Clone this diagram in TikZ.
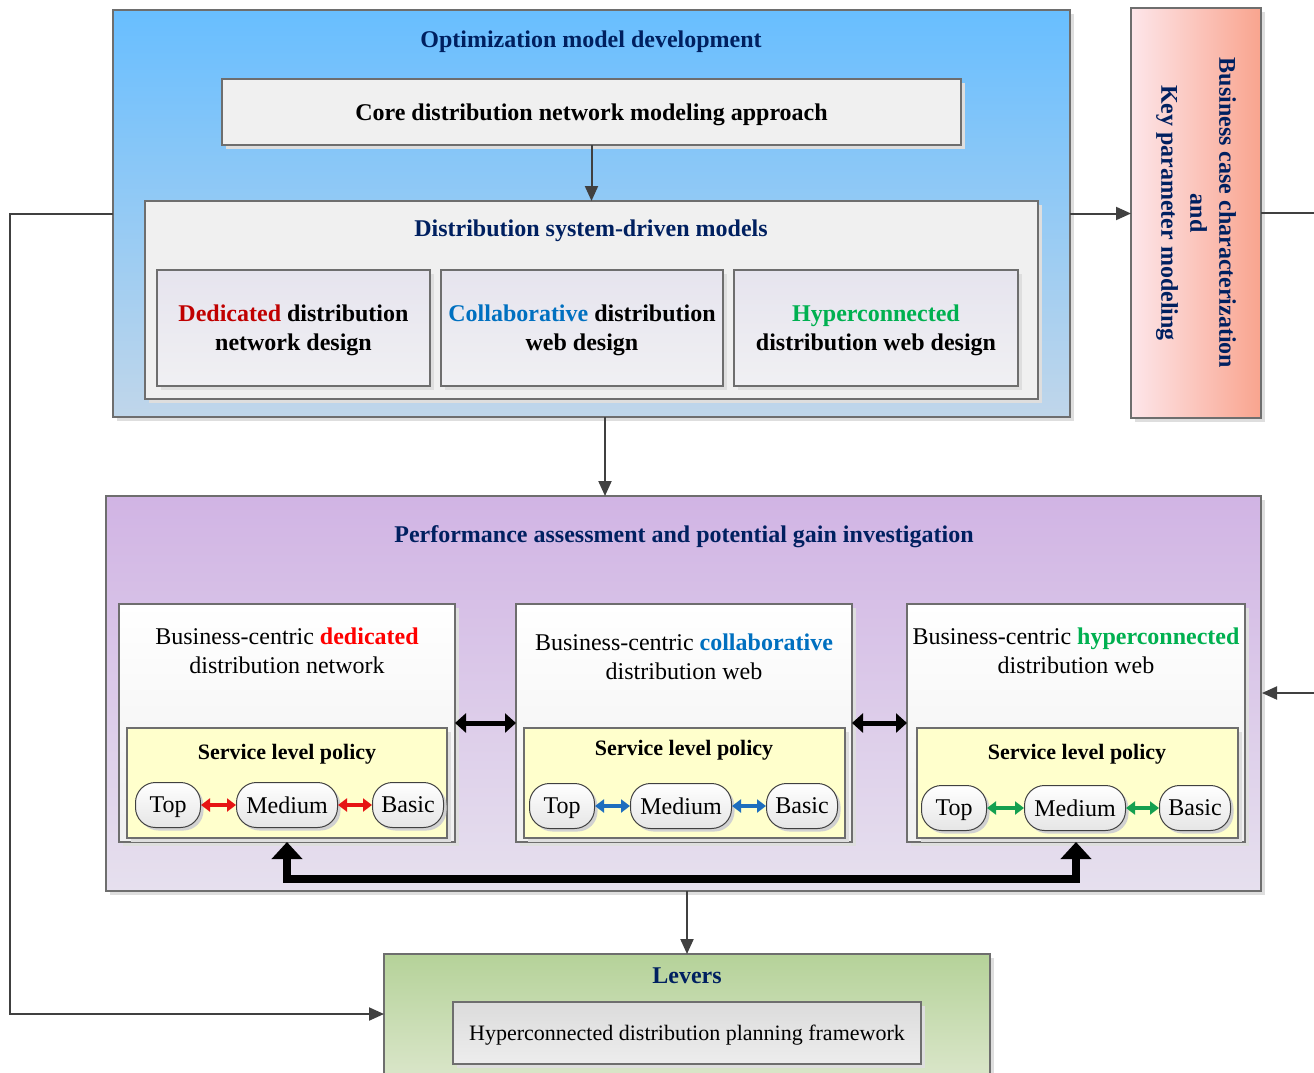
\documentclass[tikz,border=0pt]{standalone}
\usepackage{fontspec}
\setmainfont{Liberation Serif}
\usetikzlibrary{arrows.meta,shadows}

\definecolor{navy}{RGB}{0,32,96}
\definecolor{boxgray}{RGB}{110,110,110}
\definecolor{linegray}{RGB}{64,64,64}
\definecolor{shadowgray}{RGB}{222,222,222}
\definecolor{blueTop}{RGB}{104,190,255}
\definecolor{blueBot}{RGB}{192,214,234}
\definecolor{purpTop}{RGB}{209,180,228}
\definecolor{purpBot}{RGB}{230,224,238}
\definecolor{greenTop}{RGB}{181,210,153}
\definecolor{greenBot}{RGB}{226,234,212}
\definecolor{pinkL}{RGB}{253,230,234}
\definecolor{pinkR}{RGB}{249,164,142}
\definecolor{lightgray}{RGB}{240,240,240}
\definecolor{lavTop}{RGB}{230,228,238}
\definecolor{lavBot}{RGB}{240,240,243}
\definecolor{paleyellow}{RGB}{255,255,204}
\definecolor{darkred}{RGB}{192,0,0}
\definecolor{brightred}{RGB}{255,0,0}
\definecolor{collabblue}{RGB}{0,112,192}
\definecolor{hypgreen}{RGB}{0,176,80}
\definecolor{arrred}{RGB}{230,20,20}
\definecolor{arrblue}{RGB}{30,110,190}
\definecolor{arrgreen}{RGB}{20,160,80}

\tikzset{
  panel/.style={draw=boxgray, line width=1.2pt, inner sep=0pt, outer sep=0pt,
    anchor=north west,
    drop shadow={shadow xshift=4pt, shadow yshift=-4pt, fill=shadowgray, opacity=1}},
  ttl/.style={font=\fontsize{24}{29}\selectfont\bfseries, text=navy, inner sep=0pt, text depth=0pt},
  boldtxt/.style={font=\fontsize{24}{29}\selectfont\bfseries, align=center, text depth=0pt},
  plaintxt/.style={font=\fontsize{24}{29}\selectfont, align=center, inner sep=0pt},
  pill/.style={draw=linegray, line width=1pt, rounded corners=20pt,
    minimum height=45pt, inner sep=0pt, top color=white, bottom color=black!10,
    font=\fontsize{24}{29}\selectfont, text depth=0pt,
    drop shadow={shadow xshift=3pt, shadow yshift=-3pt, fill=black!18, opacity=1}},
  conn/.style={draw=linegray, line width=2pt,
    -{Triangle[length=15pt,width=13pt]}},
  minidbl/.style={line width=4pt, {Triangle[length=9pt,width=13pt]}-{Triangle[length=9pt,width=13pt]}},
  bigdbl/.style={line width=5pt, black, {Triangle[length=11pt,width=19pt]}-{Triangle[length=11pt,width=19pt]}},
  feedback/.style={line width=8pt, black, {Triangle[length=17pt,width=30pt]}-{Triangle[length=17pt,width=30pt]}},
}

\begin{document}
\begin{tikzpicture}[x=1pt,y=-1pt]
\useasboundingbox (0,0) rectangle (1314,1072);
\fill[white] (0,0) rectangle (1314,1072);
\clip (0,0) rectangle (1314,1072);

% ---------- optimization model development ----------
\node[panel, top color=blueTop, bottom color=blueBot,
  minimum width=957pt, minimum height=407pt] (opt) at (113,10) {};
\node[ttl] (optT) at (591,39) {Optimization model development};
\node[panel, fill=lightgray, minimum width=739pt, minimum height=66pt,
  boldtxt] (core) at (222,79) {Core distribution network modeling approach};
\node[panel, fill=lightgray, minimum width=893pt, minimum height=198pt] (dsm) at (145,201) {};
\node[ttl] (dsmT) at (591,228) {Distribution system-driven models};
\node[panel, top color=lavTop, bottom color=lavBot, minimum width=273pt,
  minimum height=116pt, boldtxt] (d1) at (157,270)
  {{\color{darkred}Dedicated} distribution\\network design};
\node[panel, top color=lavTop, bottom color=lavBot, minimum width=282pt,
  minimum height=116pt, boldtxt] (d2) at (441,270)
  {{\color{collabblue}Collaborative} distribution\\web design};
\node[panel, top color=lavTop, bottom color=lavBot, minimum width=284pt,
  minimum height=116pt, boldtxt] (d3) at (734,270)
  {{\color{hypgreen}Hyperconnected}\\distribution web design};

% ---------- business case ----------
\node[panel, left color=pinkL, right color=pinkR,
  minimum width=130pt, minimum height=410pt] (biz) at (1131,8) {};
\node[ttl, rotate=-90, align=center, text depth=] (bizT) at (biz.center)
  {Business case characterization\\and\\Key parameter modeling};

% ---------- performance assessment ----------
\node[panel, top color=purpTop, bottom color=purpBot,
  minimum width=1155pt, minimum height=395pt] (perf) at (106,496) {};
\node[ttl] (perfT) at (684,534) {Performance assessment and potential gain investigation};

\node[panel, top color=white, bottom color=black!6, minimum width=336pt, minimum height=238pt] (b1) at (119,604) {};
\node[panel, top color=white, bottom color=black!6, minimum width=336pt, minimum height=238pt] (b2) at (516,604) {};
\node[panel, top color=white, bottom color=black!6, minimum width=338pt, minimum height=238pt] (b3) at (907,604) {};

\node[plaintxt] (b1T) at (287,651) {Business-centric {\bfseries\color{brightred}dedicated}\\distribution network};
\node[plaintxt] (b2T) at (684,657) {Business-centric {\bfseries\color{collabblue}collaborative}\\distribution web};
\node[plaintxt] (b3T) at (1076,651) {Business-centric {\bfseries\color{hypgreen}hyperconnected}\\distribution web};

\node[panel, fill=paleyellow, minimum width=320pt, minimum height=110pt] (y1) at (127,728) {};
\node[panel, fill=paleyellow, minimum width=321pt, minimum height=110pt] (y2) at (524,728) {};
\node[panel, fill=paleyellow, minimum width=321pt, minimum height=110pt] (y3) at (917,728) {};

\node[boldtxt, inner sep=0pt, font=\fontsize{22}{26}\selectfont\bfseries] (y1T) at (287,752) {Service level policy};
\node[boldtxt, inner sep=0pt, font=\fontsize{22}{26}\selectfont\bfseries] (y2T) at (684,748) {Service level policy};
\node[boldtxt, inner sep=0pt, font=\fontsize{22}{26}\selectfont\bfseries] (y3T) at (1077,752) {Service level policy};

\node[pill, minimum width=65pt] (t1) at (168,805) {Top};
\node[pill, minimum width=101pt] (m1) at (287,805) {Medium};
\node[pill, minimum width=71pt] (s1) at (408,805) {Basic};
\node[pill, minimum width=65pt] (t2) at (562,806) {Top};
\node[pill, minimum width=101pt] (m2) at (681,806) {Medium};
\node[pill, minimum width=71pt] (s2) at (802,806) {Basic};
\node[pill, minimum width=65pt] (t3) at (954,808) {Top};
\node[pill, minimum width=101pt] (m3) at (1075,808) {Medium};
\node[pill, minimum width=71pt] (s3) at (1195,808) {Basic};

\draw[minidbl, arrred] (t1.east) -- (m1.west);
\draw[minidbl, arrred] (m1.east) -- (s1.west);
\draw[minidbl, arrblue] (t2.east) -- (m2.west);
\draw[minidbl, arrblue] (m2.east) -- (s2.west);
\draw[minidbl, arrgreen] (t3.east) -- (m3.west);
\draw[minidbl, arrgreen] (m3.east) -- (s3.west);

\coordinate (hy) at (0,723);
\draw[bigdbl] (b1.east |- hy) -- (b2.west |- hy);
\draw[bigdbl] (b2.east |- hy) -- (b3.west |- hy);

\draw[feedback] (b1.south) -- ++(0,37) -| (b3.south);

% ---------- levers ----------
\node[panel, top color=greenTop, bottom color=greenBot,
  minimum width=606pt, minimum height=150pt] (lev) at (384,954) {};
\node[ttl] (levT) at (687,976) {Levers};
\node[panel, top color=black!14, bottom color=black!7, minimum width=468pt,
  minimum height=62pt, plaintxt, font=\fontsize{22}{26}\selectfont, text depth=0pt] (hdpf) at (453,1002)
  {Hyperconnected distribution planning framework};

% ---------- connectors ----------
\draw[conn] (core) -- (dsm);
\coordinate (xa) at (605,0);
\draw[conn] (opt.south -| xa) -- (perf.north -| xa);
\draw[conn] (perf.south -| lev.north) -- (lev.north);
\draw[conn] (opt.east) -- (opt.east -| biz.west);

\coordinate (lx) at (10,0);
\coordinate (lin) at (384,1014);
\draw[conn] (opt.west) -- (opt.west -| lx) |- (lin);

\coordinate (rx) at (1340,0);
\coordinate (pin) at (1262,693);
\draw[conn] (biz.east) -- (biz.east -| rx) |- (pin);
\end{tikzpicture}
\end{document}
